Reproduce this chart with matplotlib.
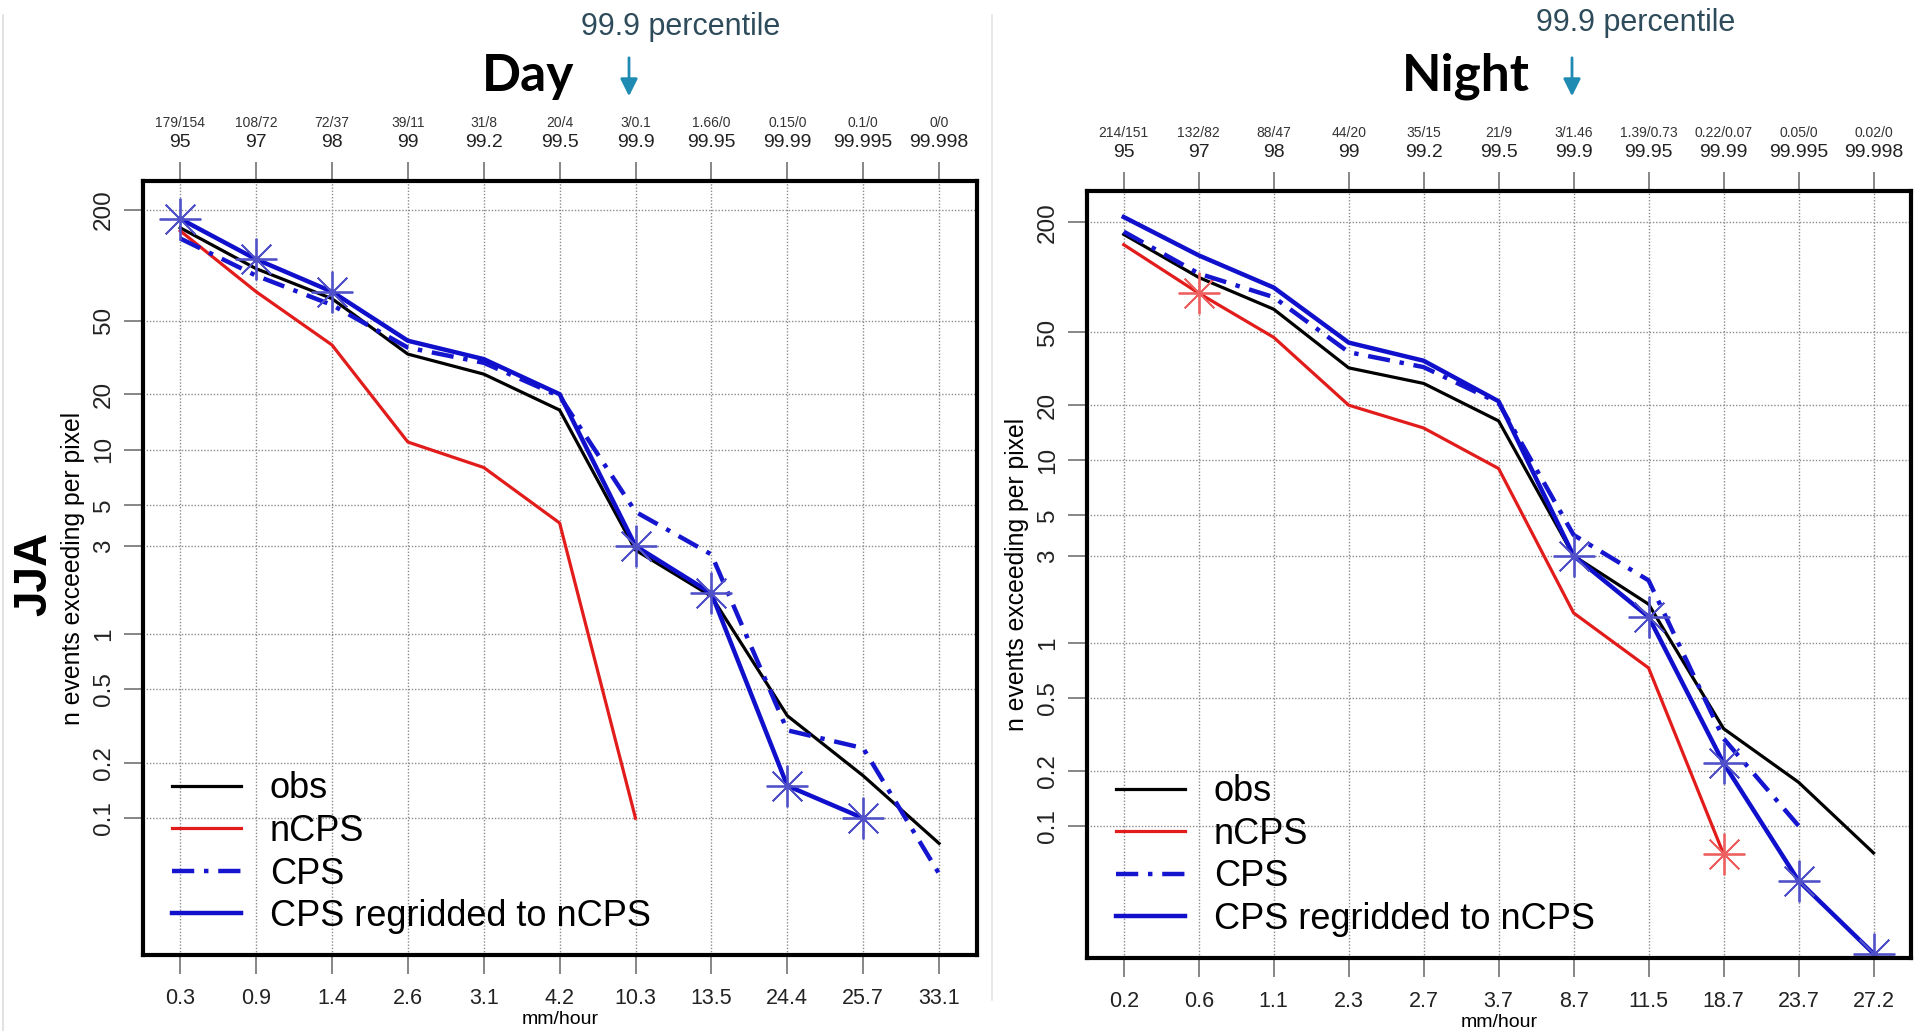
import numpy as np
import matplotlib
matplotlib.use('Agg')
import matplotlib.pyplot as plt
from matplotlib.lines import Line2D
from matplotlib.patches import FancyArrowPatch

# thresholds (mm/hour), percentiles and CPS/nCPS counts along the top
pct = ['95', '97', '98', '99', '99.2', '99.5', '99.9', '99.95', '99.99', '99.995', '99.998']

day_thr = ['0.3', '0.9', '1.4', '2.6', '3.1', '4.2', '10.3', '13.5', '24.4', '25.7', '33.1']
day_counts = ['179/154', '108/72', '72/37', '39/11', '31/8', '20/4', '3/0.1',
              '1.66/0', '0.15/0', '0.1/0', '0/0']
day_obs = [160, 96, 66, 33, 25.7, 16.4, 2.85, 1.6, 0.36, 0.17, 0.073]
day_ncps = [154, 72, 37, 11, 8, 4, 0.1]
day_cps = [140, 88, 61, 35.8, 29.6, 19.5, 4.6, 2.7, 0.3, 0.24, 0.05]
day_regrid = [179, 108, 72, 39, 31, 20, 3, 1.66, 0.15, 0.1]

night_thr = ['0.2', '0.6', '1.1', '2.3', '2.7', '3.7', '8.7', '11.5', '18.7', '23.7', '27.2']
night_counts = ['214/151', '132/82', '88/47', '44/20', '35/15', '21/9', '3/1.46',
                '1.39/0.73', '0.22/0.07', '0.05/0', '0.02/0']
night_obs = [172, 100, 67, 32, 26.3, 16.4, 3.0, 1.63, 0.34, 0.173, 0.071]
night_ncps = [151, 82, 47, 20, 15, 9, 1.46, 0.73, 0.07]
night_cps = [178, 105, 78, 39, 32.3, 20.6, 3.9, 2.2, 0.3, 0.1]
night_regrid = [214, 132, 88, 44, 35, 21, 3, 1.39, 0.22, 0.05, 0.02]

# points carrying a star symbol
day_regrid_stars = [0, 1, 2, 6, 7, 8, 9]
day_ncps_stars = []
night_regrid_stars = [6, 7, 8, 9, 10]
night_ncps_stars = [1, 8]

yticks = [0.1, 0.2, 0.5, 1, 3, 5, 10, 20, 50, 200]
ytick_labels = ['0.1', '0.2', '0.5', '1', '3', '5', '10', '20', '50', '200']

W, H = 1915, 1031
plt.rcParams['font.family'] = ['Liberation Sans', 'DejaVu Sans']

fig = plt.figure(figsize=(W / 100, H / 100), dpi=100)


def box(l, t, r, b):
    # pixel box -> figure fraction rect
    return [l / W, 1 - b / H, (r - l) / W, (b - t) / H]


def panel(rect, thr, counts, obs, ncps, cps, regrid, regrid_stars, ncps_stars, ylim):
    ax = fig.add_axes(rect)
    x = np.arange(len(thr))

    ax.plot(x[:len(obs)], obs, color='black', lw=2.3, zorder=3)
    ax.plot(x[:len(ncps)], ncps, color='#e21b1b', lw=2.3, zorder=3,
            marker=(8, 2, 0), markersize=30, markeredgewidth=1.3,
            markeredgecolor='#ee6060', markevery=ncps_stars)
    ax.plot(x[:len(cps)], cps, color='#1515d0', lw=3.2, zorder=4,
            linestyle=(0, (5, 2.2, 1, 2.2)))
    ax.plot(x[:len(regrid)], regrid, color='#1010cc', lw=3.2, zorder=5,
            marker=(8, 2, 0), markersize=30, markeredgewidth=1.3,
            markeredgecolor='#5050c8', markevery=regrid_stars)

    ax.set_yscale('log')
    ax.set_ylim(*ylim)
    ax.set_xlim(-0.49, 10.5)
    ax.set_yticks(yticks)
    ax.set_yticklabels(ytick_labels)
    ax.minorticks_off()
    ax.set_xticks(x)
    ax.set_xticklabels(thr)

    ax.grid(True, color='#8c8c8c', lw=1.0, linestyle=(0, (1, 1.3)))
    for s in ax.spines.values():
        s.set_linewidth(3)
        s.set_zorder(6)

    ax.tick_params(direction='out', length=14, width=1.1, color='#666666',
                   labelcolor='#222222', top=True)
    ax.tick_params(axis='x', pad=10, labelsize=15.5)
    ax.tick_params(axis='y', pad=6, labelsize=17.5)
    for t in ax.get_yticklabels():
        t.set_rotation(90)
        t.set_va('center')

    ax.set_xlabel('mm/hour', fontsize=14, labelpad=1)
    ax.set_ylabel('n events exceeding per pixel', fontsize=17.8, labelpad=6)

    # percentile and count labels above the top ticks
    for i in range(len(x)):
        ax.annotate(pct[i], xy=(i, 1), xycoords=('data', 'axes fraction'),
                    xytext=(0, 27.5), textcoords='offset points',
                    ha='center', va='center', fontsize=14, color='#222222')
        ax.annotate(counts[i], xy=(i, 1), xycoords=('data', 'axes fraction'),
                    xytext=(0, 42), textcoords='offset points',
                    ha='center', va='center', fontsize=10, color='#333333')

    handles = [Line2D([], [], color='black', lw=2.3),
               Line2D([], [], color='#e21b1b', lw=2.3),
               Line2D([], [], color='#1515d0', lw=3.2, linestyle=(0, (5, 2.2, 1, 2.2))),
               Line2D([], [], color='#1010cc', lw=3.2)]
    ax.legend(handles, ['obs', 'nCPS', 'CPS', 'CPS regridded to nCPS'],
              loc='lower left', bbox_to_anchor=(-0.004, -0.015), frameon=False,
              fontsize=26, handlelength=1.9, handletextpad=0.8, labelspacing=0.21)
    return ax


ax1 = panel(box(143, 181, 977, 955), day_thr, day_counts, day_obs, day_ncps,
            day_cps, day_regrid, day_regrid_stars, day_ncps_stars, (0.0181, 287))
ax2 = panel(box(1087, 191, 1911, 958), night_thr, night_counts, night_obs, night_ncps,
            night_cps, night_regrid, night_regrid_stars, night_ncps_stars, (0.0189, 297))


def fx(px):
    return px / W


def fy(py):
    return 1 - py / H


# titles and season label
fig.text(fx(528), fy(76), 'Day', fontsize=37, fontweight='bold', family=['Lato', 'DejaVu Sans'],
         ha='center', va='center')
fig.text(fx(1466), fy(76), 'Night', fontsize=37, fontweight='bold', family=['Lato', 'DejaVu Sans'],
         ha='center', va='center')
fig.text(fx(34), fy(574), 'JJA', fontsize=33, fontweight='bold', rotation=90,
         ha='center', va='center')

# 99.9 percentile markers
for tx, ty, ax_x in [(681, 27, 629), (1636, 23, 1572)]:
    fig.text(fx(tx), fy(ty), '99.9 percentile', fontsize=22, color='#2e4b5b',
             ha='center', va='center')
    fig.add_artist(FancyArrowPatch((fx(ax_x), fy(55)), (fx(ax_x), fy(99)),
                                   transform=fig.transFigure, arrowstyle='-|>',
                                   mutation_scale=26, color='#1f8bb3', lw=2))

# faint page borders
fig.add_artist(Line2D([fx(3), fx(3)], [fy(15), fy(1031)], transform=fig.transFigure,
                      color='#dddddd', lw=1.2))
fig.add_artist(Line2D([fx(992), fx(992)], [fy(15), fy(1000)], transform=fig.transFigure,
                      color='#e4e4e4', lw=1.2))

fig.savefig('out.png', dpi=100)
